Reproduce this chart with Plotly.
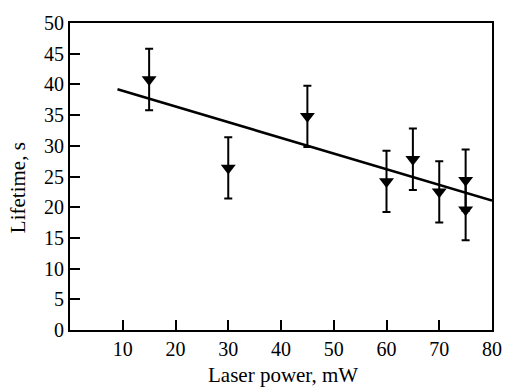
import plotly.graph_objects as go

power = [15, 30, 45, 60, 65, 70, 75, 75]
lifetime = [40.8, 26.4, 34.8, 24.2, 27.8, 22.5, 24.4, 19.6]
error = [5, 5, 5, 5, 5, 5, 5, 5]
fit_x = [9, 80]
fit_y = [39.2, 21.1]
x_ticks = [10, 20, 30, 40, 50, 60, 70, 80]
y_ticks = [0, 5, 10, 15, 20, 25, 30, 35, 40, 45, 50]

font = "Liberation Serif"
fig = go.Figure()
fig.add_trace(go.Scatter(x=fit_x, y=fit_y, mode="lines",
                         line=dict(color="black", width=2.5), showlegend=False))
fig.add_trace(go.Scatter(x=power, y=lifetime, mode="markers",
                         marker=dict(symbol="triangle-down", size=13, color="black"),
                         error_y=dict(type="data", array=error, color="black",
                                      thickness=2, width=4),
                         showlegend=False))

axis_common = dict(showline=True, linecolor="black", linewidth=2, mirror=True,
                   ticks="inside", ticklen=10, tickwidth=1.5, tickcolor="black",
                   showgrid=False, zeroline=False,
                   tickfont=dict(family=font, size=20, color="black"))
fig.update_xaxes(range=[0, 80], tickvals=x_ticks, **axis_common)
fig.update_yaxes(range=[0, 50], tickvals=y_ticks, **axis_common)

fig.update_layout(
    width=514, height=389,
    margin=dict(l=70, r=16, t=16, b=59),
    plot_bgcolor="white", paper_bgcolor="white",
    annotations=[
        dict(text="Laser power, mW", xref="paper", yref="paper", x=0.505, y=0,
             yshift=-45, xanchor="center", yanchor="middle", showarrow=False,
             font=dict(family=font, size=21, color="black")),
        dict(text="Lifetime, s", xref="paper", yref="paper", x=0, y=0.462,
             xshift=-52, xanchor="center", yanchor="middle", textangle=-90,
             showarrow=False, font=dict(family=font, size=21, color="black")),
    ],
)
fig.write_html("out.html")
